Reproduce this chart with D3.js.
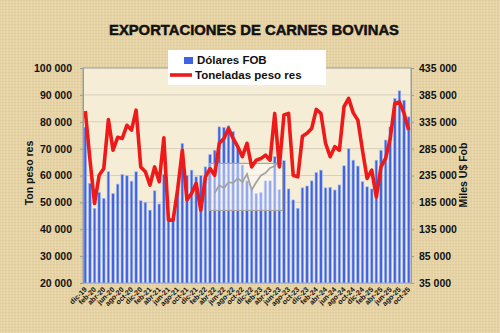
<!DOCTYPE html>
<html lang="es">
<head>
<meta charset="UTF-8">
<title>exportaciones carnes bovinas</title>
<script src="https://d3js.org/d3.v7.min.js"></script>
<style>
  body{margin:0;background:#e6d3a5;}
  text{font-family:"Liberation Sans",Arial,sans-serif;font-weight:bold;fill:#111;}
</style>
</head>
<body>
<svg id="chart" width="500" height="333"></svg>
<script>
// months dic-19 .. oct-25
const mesNames = ["ene","feb","mar","abr","may","jun","jul","ago","sep","oct","nov","dic"];
const months = ["dic-19"];
for (let y = 20; y <= 25; y++) {
    mesNames.forEach(function (m, k) {
        if (y === 25 && k > 9) return;
        months.push(m + "-" + y);
    });
}

// Dólares FOB (miles U$), right axis
const dolaresFOB = [
    325000, 220500, 174000, 203500, 192500, 242000, 201500, 219000, 237000, 234500,
    224500, 242000, 188000, 185000, 170500, 206500, 182000, 237500, 149000, 155000,
    210000, 294500, 235000, 245000, 232500, 235000, 251000, 274000, 282000, 325500,
    324500, 327500, 316500, 288500, 254500, 225000, 210000, 201500, 203500, 225000,
    225000, 270000, 209000, 262500, 210000, 189500, 174000, 212000, 215500, 225000,
    240500, 245000, 212000, 213000, 208000, 217500, 253000, 285000, 263500, 252500,
    223500, 214000, 210000, 263500, 282000, 301000, 325500, 378500, 392500, 375000,
    344000
];

// Toneladas peso res, left axis
const toneladas = [
    84000, 66000, 49600, 60100, 62600, 80800, 69400, 74200, 73800, 78700,
    76900, 84300, 63200, 61400, 56400, 63200, 57700, 74000, 43400, 43400,
    55000, 69400, 50900, 53300, 57100, 47100, 59500, 62600, 60100, 72000,
    73800, 77500, 73800, 70700, 67000, 72000, 63200, 65700, 66300, 67600,
    65700, 83100, 63200, 82500, 83100, 60100, 59500, 74600, 75700, 77500,
    84600, 83100, 72000, 67000, 70700, 69400, 85600, 88700, 83300, 80600,
    69400, 58900, 62000, 52000, 63200, 66400, 73800, 86800, 87400, 83100,
    76900
];

// grey series of the small pasted picture (feb-22 .. abr-23)
const insetMonths = ["abr-22","may-22","jun-22","jul-22","ago-22","sep-22","oct-22","nov-22",
    "dic-22","ene-23","feb-23","mar-23","abr-23","may-23","jun-23"];
const insetSerie = [53500, 56400, 55300, 57500, 57200, 59000, 57500, 60500,
    54600, 57500, 60000, 60900, 62800, 63500, 65700];

const leftTicks = [20000, 30000, 40000, 50000, 60000, 70000, 80000, 90000, 100000];
const rightTicks = [35000, 85000, 135000, 185000, 235000, 285000, 335000, 385000, 435000];

const svg = d3.select("#chart");
const W = 500, H = 333;
const plot = {left: 83, right: 411, top: 68, bottom: 283};

// canvas-like texture
const defs = svg.append("defs");
const pat = defs.append("pattern").attr("id", "canvas")
    .attr("width", 6).attr("height", 6).attr("patternUnits", "userSpaceOnUse");
pat.append("rect").attr("width", 6).attr("height", 6).attr("fill", "#e6d3a5");
pat.append("path").attr("d", "M0 0.5H6M0 3.5H6").attr("stroke", "#dcc692").attr("stroke-width", 0.6);
pat.append("path").attr("d", "M1.5 0V6M4.5 0V6").attr("stroke", "#eddcb3").attr("stroke-width", 0.6);

svg.append("rect").attr("width", W).attr("height", H).attr("fill", "url(#canvas)");

const x = d3.scaleBand().domain(months).range([plot.left, plot.right]).padding(0);
const yL = d3.scaleLinear().domain([20000, 100000]).range([plot.bottom, plot.top]);
const yR = d3.scaleLinear().domain([35000, 435000]).range([plot.bottom, plot.top]);
const bw = x.bandwidth();

// plot area
svg.append("rect")
    .attr("x", plot.left).attr("y", plot.top)
    .attr("width", plot.right - plot.left).attr("height", plot.bottom - plot.top)
    .attr("fill", "#f6edd6").attr("stroke", "#9a9a9a").attr("stroke-width", 1);

// gridlines
svg.append("g").selectAll("line").data(leftTicks.slice(1, -1)).join("line")
    .attr("x1", plot.left).attr("x2", plot.right)
    .attr("y1", d => yL(d)).attr("y2", d => yL(d))
    .attr("stroke", "#c9c2b2").attr("stroke-width", 0.7);

// bars
svg.append("g").selectAll("rect").data(dolaresFOB).join("rect")
    .attr("x", (d, i) => x(months[i]) + bw * 0.22)
    .attr("y", d => yR(d))
    .attr("width", bw * 0.56)
    .attr("height", d => plot.bottom - yR(d))
    .attr("fill", "#3d62e3")
    .attr("stroke", "#a8bdf0").attr("stroke-width", 0.6);

// pasted picture: pale box + grey line
const x0 = x(insetMonths[0]) - 3, x1 = x(insetMonths[insetMonths.length - 1]) + bw + 1;
svg.append("rect")
    .attr("x", x0).attr("y", yL(64500))
    .attr("width", x1 - x0).attr("height", yL(47000) - yL(64500))
    .attr("fill", "#ffffff").attr("fill-opacity", 0.45)
    .attr("stroke", "#a6a6a6").attr("stroke-width", 1.2);
svg.append("path").datum(insetSerie)
    .attr("d", d3.line().x((d, i) => x(insetMonths[i]) + bw / 2).y(d => yL(d)))
    .attr("fill", "none").attr("stroke", "#a3a3a3").attr("stroke-width", 1.8);

// line
const line = d3.line()
    .x((d, i) => x(months[i]) + bw / 2)
    .y(d => yL(d));
svg.append("path").datum(toneladas)
    .attr("d", line)
    .attr("fill", "none").attr("stroke", "#ee1a1a")
    .attr("stroke-width", 3.6).attr("stroke-linejoin", "round");

// left axis
const axL = svg.append("g").attr("transform", "translate(" + plot.left + ",0)")
    .call(d3.axisLeft(yL).tickValues(leftTicks).tickSize(3)
        .tickFormat(d => d3.format(",")(d).replace(/,/g, " ")));
axL.select(".domain").attr("stroke", "#9a9a9a");
axL.selectAll(".tick line").attr("stroke", "#9a9a9a");
axL.selectAll("text").attr("font-size", 10.5).attr("x", -11).attr("fill", "#111")
    .attr("font-family", "Liberation Sans, Arial, sans-serif").attr("font-weight", "bold");

// right axis
const axR = svg.append("g").attr("transform", "translate(" + plot.right + ",0)")
    .call(d3.axisRight(yR).tickValues(rightTicks).tickSize(3)
        .tickFormat(d => d3.format(",")(d).replace(/,/g, " ")));
axR.select(".domain").attr("stroke", "#9a9a9a");
axR.selectAll(".tick line").attr("stroke", "#9a9a9a");
axR.selectAll("text").attr("font-size", 10.5).attr("x", 8).attr("fill", "#111")
    .attr("font-family", "Liberation Sans, Arial, sans-serif").attr("font-weight", "bold");

// x labels, every 2nd month
const xLabels = months.filter((m, i) => i % 2 === 0);
svg.append("g").selectAll("text").data(xLabels).join("text")
    .attr("transform", d => "translate(" + (x(d) + bw / 2 + 2) + "," + (plot.bottom + 7) + ") rotate(-45)")
    .attr("text-anchor", "end")
    .attr("font-size", 7.2)
    .text(d => d);

// axis titles
svg.append("text")
    .attr("transform", "translate(33,173) rotate(-90)")
    .attr("text-anchor", "middle").attr("font-size", 10.5)
    .text("Ton peso res");
svg.append("text")
    .attr("transform", "translate(467,175) rotate(-90)")
    .attr("text-anchor", "middle").attr("font-size", 10.5)
    .text("Miles U$ Fob");

// title
svg.append("text")
    .attr("x", 254).attr("y", 35)
    .attr("text-anchor", "middle").attr("font-size", 14.8)
    .attr("stroke", "#111").attr("stroke-width", 0.5)
    .text("EXPORTACIONES DE CARNES BOVINAS");

// legend
const lg = svg.append("g");
lg.append("rect").attr("x", 168).attr("y", 50).attr("width", 158).attr("height", 35).attr("fill", "#ffffff");
lg.append("rect").attr("x", 184).attr("y", 57).attr("width", 9).attr("height", 7).attr("fill", "#3d62e3");
lg.append("text").attr("x", 197).attr("y", 64).attr("font-size", 11.5).text("Dólares FOB");
lg.append("line").attr("x1", 170).attr("x2", 192).attr("y1", 75).attr("y2", 75)
    .attr("stroke", "#ee1a1a").attr("stroke-width", 3.6);
lg.append("text").attr("x", 195).attr("y", 79).attr("font-size", 11.5).text("Toneladas peso res");
</script>
</body>
</html>
